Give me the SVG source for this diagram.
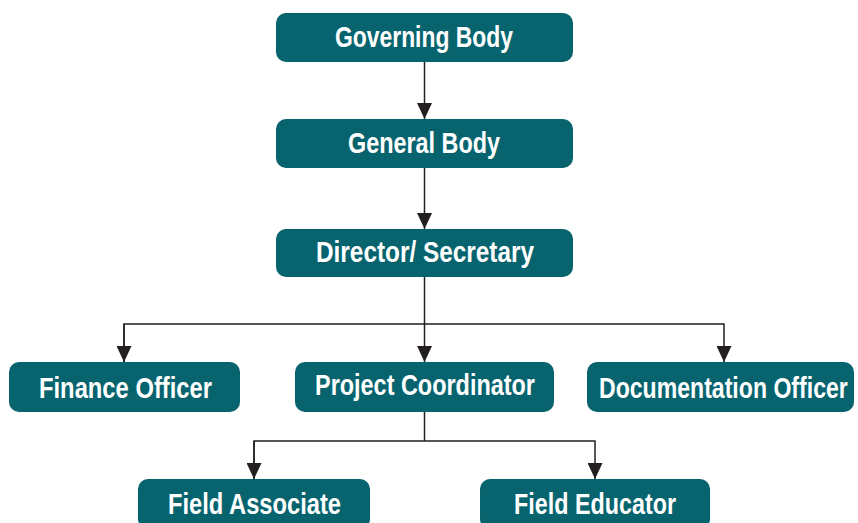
<svg xmlns="http://www.w3.org/2000/svg" width="858" height="523" viewBox="0 0 858 523">
  <defs>
    <marker id="arr" markerUnits="userSpaceOnUse" markerWidth="16" markerHeight="15" refX="16" refY="7.5" orient="auto">
      <path d="M0,0 L16,7.5 L0,15 z" fill="#231f20"/>
    </marker>
    <style>
      .box { fill: #07646f; }
      .lbl { fill: #ffffff; font-family: "Liberation Sans", Arial, sans-serif; font-weight: bold; font-size: 30px; }
      .ln { fill: none; stroke: #231f20; stroke-width: 1.5; }
    </style>
  </defs>
  <rect width="858" height="523" fill="#ffffff"/>
  <g id="connectors">
    <path class="ln" d="M424.5,62 V119" marker-end="url(#arr)"/>
    <path class="ln" d="M424.5,168 V229" marker-end="url(#arr)"/>
    <path class="ln" d="M424.5,277 V362" marker-end="url(#arr)"/>
    <path class="ln" d="M124,362 V324 H724 V362" marker-end="url(#arr)"/>
    <path class="ln" d="M124,324 V362" marker-end="url(#arr)"/>
    <path class="ln" d="M424.5,412 V441"/>
    <path class="ln" d="M254,479 V441 H595 V479" marker-end="url(#arr)"/>
    <path class="ln" d="M254,441 V479" marker-end="url(#arr)"/>
  </g>
  <g id="governing-body">
    <rect class="box" x="276" y="13" width="297" height="49" rx="10"/>
    <text class="lbl" x="335" y="47" textLength="178" lengthAdjust="spacingAndGlyphs">Governing Body</text>
  </g>
  <g id="general-body">
    <rect class="box" x="276" y="119" width="297" height="49" rx="10"/>
    <text class="lbl" x="348" y="153" textLength="152" lengthAdjust="spacingAndGlyphs">General Body</text>
  </g>
  <g id="director-secretary">
    <rect class="box" x="276" y="229" width="297" height="48" rx="10"/>
    <text class="lbl" x="316" y="262" textLength="218" lengthAdjust="spacingAndGlyphs">Director/ Secretary</text>
  </g>
  <g id="finance-officer">
    <rect class="box" x="9" y="362" width="231" height="50" rx="10"/>
    <text class="lbl" x="39" y="398" textLength="173" lengthAdjust="spacingAndGlyphs">Finance Officer</text>
  </g>
  <g id="project-coordinator">
    <rect class="box" x="295" y="362" width="259" height="50" rx="10"/>
    <text class="lbl" x="315" y="395" textLength="220" lengthAdjust="spacingAndGlyphs">Project Coordinator</text>
  </g>
  <g id="documentation-officer">
    <rect class="box" x="587" y="362" width="267" height="50" rx="10"/>
    <text class="lbl" transform="translate(599,398) scale(0.8,1)" x="0" y="0" textLength="311" lengthAdjust="spacingAndGlyphs">Documentation Officer</text>
  </g>
  <g id="field-associate">
    <rect class="box" x="138" y="479" width="232" height="50" rx="10"/>
    <text class="lbl" x="168" y="514" textLength="173" lengthAdjust="spacingAndGlyphs">Field Associate</text>
  </g>
  <g id="field-educator">
    <rect class="box" x="480" y="479" width="230" height="50" rx="10"/>
    <text class="lbl" x="514" y="514" textLength="162" lengthAdjust="spacingAndGlyphs">Field Educator</text>
  </g>
</svg>
